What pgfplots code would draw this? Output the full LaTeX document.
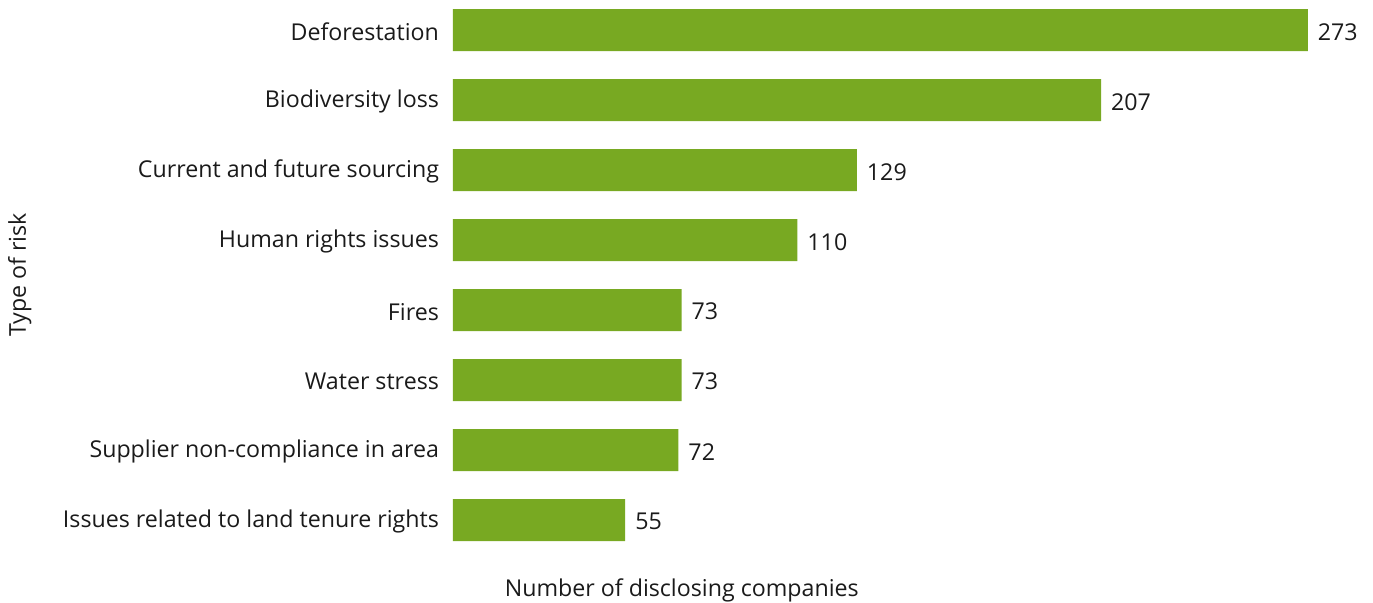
\documentclass[border=0pt]{standalone}
\usepackage{pgfplots}
\pgfplotsset{compat=1.18}
\usepackage{fontspec}
\setmainfont{Open Sans}
\definecolor{bargreen}{HTML}{78A922}
\definecolor{txt}{HTML}{1A1A1A}
\begin{document}
\begin{tikzpicture}[font=\fontsize{11.6}{13.5}\selectfont, text=txt]
\begin{axis}[
  name=ax,
  scale only axis,
  width=454pt, height=280pt,
  xmin=0, xmax=290,
  ymin=-0.57, ymax=7.43,
  xbar, bar width=0.6,
  axis line style={draw=none},
  xtick=\empty,
  ytick={0,1,2,3,4,5,6,7},
  yticklabels={Issues related to land tenure rights,Supplier non-compliance in area,Water stress,Fires,Human rights issues,Current and future sourcing,Biodiversity loss,Deforestation},
  major tick length=0pt,
  yticklabel style={xshift=-3.5pt, yshift=-0.8pt},
  xlabel={Number of disclosing companies},
  xlabel style={at={(axis description cs:0.252,0)}, anchor=north, yshift=-6pt},
  ylabel={Type of risk},
  ylabel style={at={(axis description cs:-0.477,0.509)}, anchor=center},
  nodes near coords,
  nodes near coords style={anchor=west, xshift=1.5pt, yshift=-0.8pt, text=txt, /pgf/number format/assume math mode=true},
  /pgf/number format/assume math mode=true,
  clip=false,
]
\addplot[fill=bargreen, draw=none] coordinates {
(55,0) (72,1) (73,2) (73,3) (110,4) (129,5) (207,6) (273,7)
};
\end{axis}
\pgfresetboundingbox
\path[use as bounding box] ([shift={(-226.5pt,-21pt)}]ax.south west) rectangle ([shift={(460pt,280pt)}]ax.south west);
\end{tikzpicture}
\end{document}
